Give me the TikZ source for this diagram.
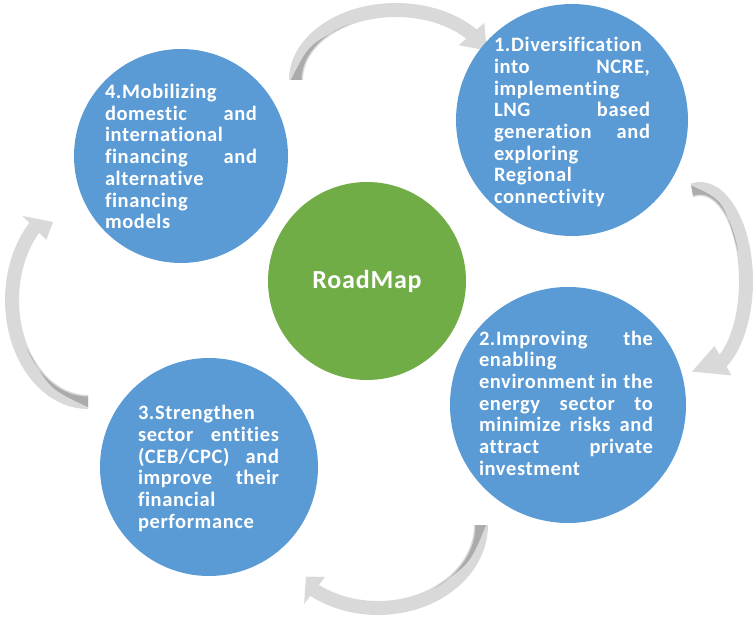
\documentclass[tikz,border=0pt]{standalone}
\usepackage{fontspec}
\setmainfont{Carlito}[LetterSpace=3,Ligatures=NoCommon]
\definecolor{bubbleblue}{HTML}{5B9BD5}
\definecolor{mapgreen}{HTML}{70AD47}
\definecolor{arrowlight}{HTML}{D9D9D9}
\definecolor{arrowdark}{HTML}{ABABAB}
% justified line of a bubble text
\newcommand{\jl}[2]{\makebox[#1][s]{\spaceskip=0pt\xspaceskip=0pt\relax #2}}
% curved ribbon arrow: centre, radii, tail, head base, tip, tip offset, end of dark part
\newcommand{\cyclearrow}[9]{%
  \fill[arrowlight] ({#1+(#3+7)*cos(#5)},{#2+(#4+7)*sin(#5)})
    arc[start angle=#5, end angle=#6, x radius=#3+7, y radius=#4+7]
    -- ({#1+(#3+17)*cos(#6)},{#2+(#4+17)*sin(#6)})
    -- ({#1+(#3+(#8))*cos(#7)},{#2+(#4+(#8))*sin(#7)})
    -- ({#1+(#3-17)*cos(#6)},{#2+(#4-17)*sin(#6)})
    -- ({#1+(#3-7)*cos(#6)},{#2+(#4-7)*sin(#6)})
    arc[start angle=#6, end angle=#5, x radius=#3-7, y radius=#4-7] -- cycle;
  \fill[arrowdark] ({#1+(#3-5.5)*cos(#5)},{#2+(#4-5.5)*sin(#5)})
    -- ({#1+(#3+5)*cos(#5)},{#2+(#4+5)*sin(#5)})
    .. controls ({#1+(#3+1)*cos((#5+#9)/2)},{#2+(#4+1)*sin((#5+#9)/2)}) ..
    ({#1+(#3-5.5)*cos(#9)},{#2+(#4-5.5)*sin(#9)})
    arc[start angle=#9, end angle=#5, x radius=#3-5.5, y radius=#4-5.5] -- cycle;
}
\begin{document}
\begin{tikzpicture}[x=1pt,y=-1pt,
    bubble/.style={circle,fill=bubbleblue,inner sep=0pt},
    bubbletext/.style={text=white,align=left,inner sep=0pt,
      font=\fontsize{20.5}{21.7}\selectfont\bfseries}]
	\useasboundingbox (0,0) rectangle (755,617);
	% arrows between the steps
	\cyclearrow{396}{80}{100}{70}{180}{319}{335}{0}{240}
	\cyclearrow{700}{281}{46}{92}{-100}{60}{100}{0}{-20}
	\cyclearrow{378}{525}{103}{83}{0}{128}{138}{-6}{55}
	\cyclearrow{88}{300}{76}{102}{90}{225}{238}{-10}{150}
	% steps
	\node[bubble,minimum size=232pt] (c1) at (572,120) {};
	\node[bubble,minimum size=236pt] (c2) at (568,405) {};
	\node[bubble,minimum size=218pt] (c3) at (209,467) {};
	\node[bubble,minimum size=214pt] (c4) at (181,156) {};
	\node[circle,fill=mapgreen,inner sep=0pt,minimum size=198pt] (map) at (367,281) {};
	\node[text=white,font=\fontsize{26}{30}\selectfont\bfseries] (maplabel) at (map) {RoadMap};
	\node[bubbletext,text width=156pt] (t1) at (572,122) {1.Diversification\\
		\jl{156pt}{into NCRE,}\\ implementing\\ \jl{156pt}{LNG based}\\
		\jl{156pt}{generation and}\\ exploring\\ Regional\\ connectivity};
	\node[bubbletext,text width=174pt] (t2) at (566,403) {\jl{174pt}{2.Improving the}\\
		enabling\\ \jl{174pt}{environment in the}\\ \jl{174pt}{energy sector to}\\
		\jl{174pt}{minimize risks and}\\ \jl{174pt}{attract private}\\ investment};
	\node[bubbletext,text width=141pt] (t3) at (208.5,468.5) {3.Strengthen\\
		\jl{141pt}{sector entities}\\ \jl{141pt}{(CEB/CPC) and}\\
		\jl{141pt}{improve their}\\ financial\\ performance};
	\node[bubbletext,text width=152pt] (t4) at (181,156.5) {4.Mobilizing\\
		\jl{152pt}{domestic and}\\ international\\ \jl{152pt}{financing and}\\
		alternative\\ financing\\ models};
\end{tikzpicture}
\end{document}
